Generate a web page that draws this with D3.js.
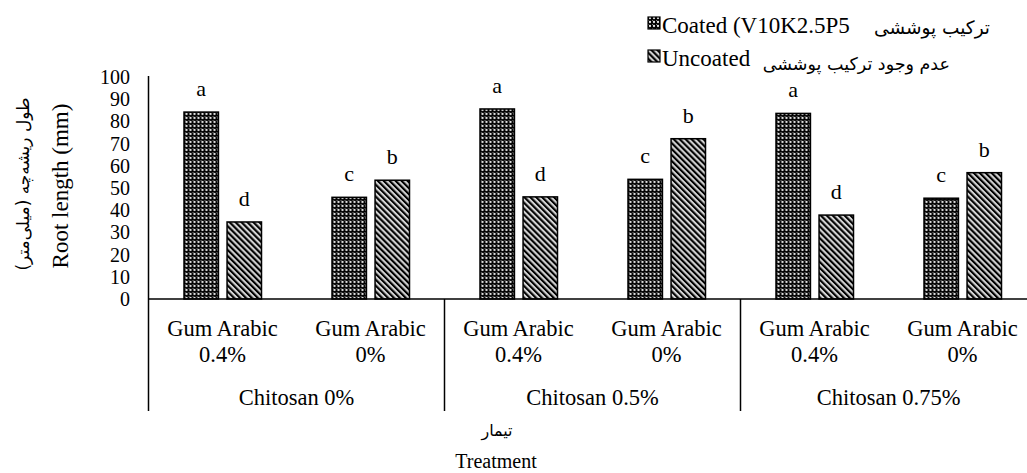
<!DOCTYPE html>
<html>
<head>
<meta charset="utf-8">
<script src="https://cdn.jsdelivr.net/npm/d3@7"></script>
<style>
  html, body { margin: 0; padding: 0; background: #fff; }
  svg { display: block; }
</style>
</head>
<body>
<svg id="chart" width="1027" height="473"></svg>
<script>
// Root length by treatment: chitosan level × gum arabic level, coated vs uncoated seed
const chitosan = ["Chitosan 0%", "Chitosan 0.5%", "Chitosan 0.75%"];
const gumArabic = ["0.4%", "0%"];
const series = ["coated", "uncoated"];
const coated = [84.2, 45.8, 85.6, 53.9, 83.6, 45.4];
const uncoated = [34.7, 53.5, 46.0, 72.2, 37.8, 56.9];
const coatedLetters = ["a", "c", "a", "c", "a", "c"];
const uncoatedLetters = ["d", "b", "d", "b", "d", "b"];
const yTicks = [0, 10, 20, 30, 40, 50, 60, 70, 80, 90, 100];

const SERIF = "'Liberation Serif', 'Times New Roman', serif";
const ARABIC = "'DejaVu Sans', 'Noto Sans', sans-serif";

const svg = d3.select("#chart");

function lat(sel, size) {
  return sel.style("font-family", SERIF).style("font-size", size + "px").attr("fill", "#000");
}
function ara(sel, size) {
  return sel.style("font-family", ARABIC).style("font-size", size + "px").attr("fill", "#000");
}

// fill patterns
const defs = svg.append("defs");
const dots = defs.append("pattern").attr("id", "patCoated")
  .attr("patternUnits", "userSpaceOnUse").attr("width", 4).attr("height", 4);
dots.append("rect").attr("width", 4).attr("height", 4).attr("fill", "#000");
dots.append("circle").attr("cx", 2).attr("cy", 2).attr("r", 1.15).attr("fill", "#e6e6e6");
dots.append("rect").attr("x", 0).attr("y", 0).attr("width", 0.9).attr("height", 0.9).attr("fill", "#9a9a9a");

const stripes = defs.append("pattern").attr("id", "patUncoated")
  .attr("patternUnits", "userSpaceOnUse").attr("width", 4.2).attr("height", 4.2)
  .attr("patternTransform", "rotate(-45)");
stripes.append("rect").attr("width", 4.2).attr("height", 4.2).attr("fill", "#d4d4d4");
stripes.append("rect").attr("width", 2.1).attr("height", 4.2).attr("fill", "#000");

const fills = { coated: "url(#patCoated)", uncoated: "url(#patUncoated)" };

// one row per treatment combination
const rows = [];
chitosan.forEach((c, i) => gumArabic.forEach((g, j) => {
  const k = i * gumArabic.length + j;
  rows.push({ key: c + "|" + g, chitosan: c, gum: g,
    coated: coated[k], uncoated: uncoated[k],
    coatedL: coatedLetters[k], uncoatedL: uncoatedLetters[k] });
}));

// scales
const x0 = d3.scaleBand().domain(rows.map(d => d.key)).range([148.5, 1036.5]).padding(0);
const x1 = d3.scaleBand().domain(series).range([35.5, 113]).paddingInner(0.2);
const y = d3.scaleLinear().domain([0, 100]).range([299, 77]);
const xc = d3.scaleBand().domain(chitosan).range([148.5, 1036.5]).padding(0);

// bars
const groups = svg.append("g").selectAll("g").data(rows).join("g")
  .attr("transform", d => `translate(${x0(d.key)},0)`);

groups.selectAll("rect").data(d => series.map(s => ({ s, v: d[s] }))).join("rect")
  .attr("x", d => x1(d.s))
  .attr("y", d => y(d.v))
  .attr("width", x1.bandwidth())
  .attr("height", d => y(0) - y(d.v))
  .attr("fill", d => fills[d.s])
  .attr("stroke", "#000")
  .attr("stroke-width", 1.5);

// significance letters
lat(groups.selectAll("text.sig").data(d => series.map(s => ({ s, v: d[s], l: d[s + "L"] }))).join("text")
  .attr("class", "sig")
  .attr("x", d => x1(d.s) + x1.bandwidth() / 2)
  .attr("y", d => y(d.v) - 16)
  .attr("text-anchor", "middle")
  .text(d => d.l), 22);

// y axis: labels only, no tick marks
const yAxis = d3.axisLeft(y).tickValues(yTicks).tickSize(0).tickPadding(0);
const yg = svg.append("g").attr("transform", "translate(130,0)").call(yAxis);
yg.select(".domain").remove();
lat(yg.selectAll("text"), 20);

// axis lines
svg.append("line").attr("x1", 148.5).attr("x2", 148.5).attr("y1", 76).attr("y2", 411)
  .attr("stroke", "#000").attr("stroke-width", 1.5);
svg.append("line").attr("x1", 148.5).attr("x2", 1036.5).attr("y1", y(0)).attr("y2", y(0))
  .attr("stroke", "#000").attr("stroke-width", 1.5);
chitosan.slice(1).forEach(c => {
  svg.append("line").attr("x1", xc(c)).attr("x2", xc(c)).attr("y1", y(0)).attr("y2", 411)
    .attr("stroke", "#000").attr("stroke-width", 1.5);
});

// category labels (two levels)
const cat = svg.append("g");
rows.forEach(d => {
  const cx = x0(d.key) + x0.bandwidth() / 2;
  lat(cat.append("text").attr("x", cx).attr("y", 336).attr("text-anchor", "middle").text("Gum Arabic"), 22.5);
  lat(cat.append("text").attr("x", cx).attr("y", 362).attr("text-anchor", "middle").text(d.gum), 22.5);
});
chitosan.forEach(c => {
  lat(cat.append("text").attr("x", xc(c) + xc.bandwidth() / 2).attr("y", 405)
    .attr("text-anchor", "middle").text(c), 22.5);
});

// axis titles
ara(svg.append("text").attr("x", 497).attr("y", 436).attr("text-anchor", "middle").text("تیمار"), 16);
lat(svg.append("text").attr("x", 496).attr("y", 468).attr("text-anchor", "middle").text("Treatment"), 20);

lat(svg.append("text")
  .attr("transform", "translate(68,186) rotate(-90)")
  .attr("text-anchor", "middle").text("Root length (mm)"), 23);
ara(svg.append("text")
  .attr("transform", "translate(29,184) rotate(-90)")
  .attr("text-anchor", "middle").text("طول ریشه‌چه (میلی‌متر)"), 17);

// legend
const legend = svg.append("g");
legend.append("rect").attr("x", 648).attr("y", 17).attr("width", 12).attr("height", 12)
  .attr("fill", fills.coated).attr("stroke", "#000").attr("stroke-width", 1.2);
lat(legend.append("text").attr("x", 662).attr("y", 33).text("Coated (V10K2.5P5"), 23);
ara(legend.append("text").attr("x", 990).attr("y", 34).attr("text-anchor", "end").text("ترکیب پوششی"), 18.5);

legend.append("rect").attr("x", 648).attr("y", 50).attr("width", 12).attr("height", 12)
  .attr("fill", fills.uncoated).attr("stroke", "#000").attr("stroke-width", 1.2);
lat(legend.append("text").attr("x", 662).attr("y", 66).text("Uncoated"), 23);
ara(legend.append("text").attr("x", 950).attr("y", 70).attr("text-anchor", "end").text("عدم وجود ترکیب پوششی"), 17.5);
</script>
</body>
</html>
